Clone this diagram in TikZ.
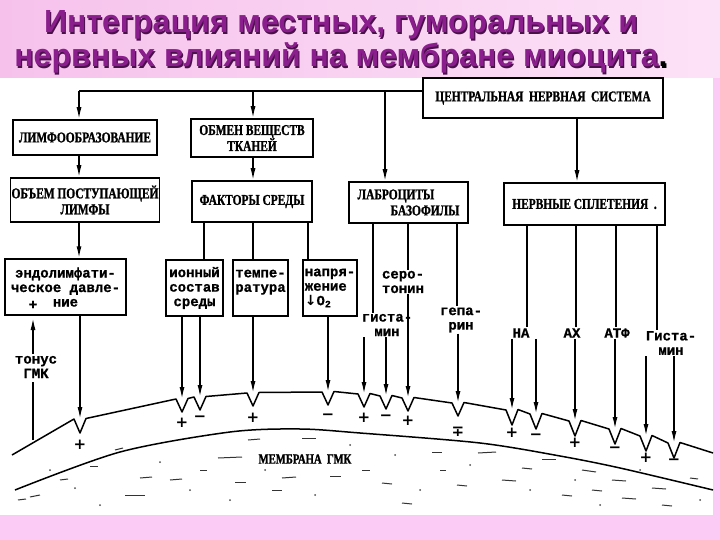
\documentclass[tikz,border=0pt]{standalone}
\usepackage{fontspec}
\setmainfont{Liberation Sans}
\newfontfamily\capfont[FakeStretch=0.76, BoldFeatures={FakeBold=1.2}]{Liberation Serif}
\newfontfamily\lblfont[BoldFeatures={FakeBold=0.8}]{Liberation Mono}
\newfontfamily\symfont{DejaVu Sans}
\usetikzlibrary{arrows.meta}
\definecolor{bgpink}{HTML}{FBCBF6}
\definecolor{titlepink}{HTML}{F6C2EC}
\definecolor{titlelight}{HTML}{FCE2F7}
\definecolor{titlepurple}{HTML}{8A1E8C}
\definecolor{titleshadow}{HTML}{4A104A}
\tikzset{
  titletext/.style={font=\bfseries\fontsize{32}{34}\selectfont, inner sep=0pt, anchor=base},
  boxst/.style={draw, line width=1.5pt, inner sep=1pt, align=center,
    font=\capfont\bfseries\fontsize{15}{16}\selectfont},
  lbox/.style={draw, line width=1.5pt, inner sep=1pt, align=center,
    font=\lblfont\bfseries\fontsize{14}{14.5}\selectfont},
  lbl/.style={inner sep=1pt, align=center, font=\lblfont\bfseries\fontsize{14}{14.5}\selectfont},
  conn/.style={line width=1.5pt},
  arr/.style={line width=1.5pt, -{Latex[length=12pt,width=5pt]}},
  memb/.style={line width=1.5pt, line join=round},
  sgn/.style={inner sep=0pt, font=\symfont\bfseries\fontsize{15}{15}\selectfont},
  speck/.style={line width=1pt, black!80}
}
\begin{document}
\begin{tikzpicture}[x=1pt,y=-1pt]
\useasboundingbox (0,0) rectangle (720,540);
% background
\fill[bgpink] (0,0) rectangle (720,540);
\shade[left color=titlepink, right color=titlelight] (0,0) rectangle (720,78);
\fill[white] (0,78) rectangle (713,515);

% title
\node[titletext, text=titleshadow] at (342.2,34.2) {Интеграция местных, гуморальных и};
\node[titletext, text=titlepurple] (title1) at (341,33) {Интеграция местных, гуморальных и};
\node[titletext, text=titleshadow] at (342.2,68.2) {нервных влияний на мембране миоцита\textcolor{black}{.}};
\node[titletext, text=titlepurple] (title2) at (341,67) {нервных влияний на мембране миоцита\textcolor{black}{.}};

% upper boxes
\node[boxst, minimum width=240, minimum height=40] (cns) at (543,98) {ЦЕНТРАЛЬНАЯ\ \ НЕРВНАЯ\ \ СИСТЕМА};
\node[boxst, minimum width=144, minimum height=35] (limf) at (85,137.5) {ЛИМФООБРАЗОВАНИЕ};
\node[boxst, minimum width=122, minimum height=38] (obmen) at (252,138) {ОБМЕН ВЕЩЕСТВ\\ТКАНЕЙ};
\node[boxst, minimum width=144, minimum height=44] (obyem) at (85,200) {ОБЪЕМ ПОСТУПАЮЩЕЙ\\ЛИМФЫ};
\node[boxst, minimum width=120, minimum height=41] (fakt) at (252,201.5) {ФАКТОРЫ СРЕДЫ};
\node[boxst, minimum width=119, minimum height=41, align=left] (labr) at (408.5,202.5) {ЛАБРОЦИТЫ\\\hspace*{2.2em}БАЗОФИЛЫ};
\node[boxst, minimum width=161, minimum height=42] (nerv) at (584.5,204) {НЕРВНЫЕ СПЛЕТЕНИЯ\ \ .};

% lower boxes
\node[lbox, minimum width=121, minimum height=56] (endo) at (65.5,287) {эндолимфати-\\ческое давле-\\ние};
\node[lbl] (plus) at (33,305) {+};
\node[lbox, minimum width=57, minimum height=56] (ion) at (194.5,288) {ионный\\состав\\среды};
\node[lbox, minimum width=55, minimum height=56] (temp) at (260.5,288) {темпе-\\ратура\\\mbox{}};
\node[lbox, minimum width=54, minimum height=56, align=left] (napr) at (330,288) {напря-\\жение\\{\symfont↓}O\textsubscript{2}};

% free labels
\node[lbl] (sero) at (403,282) {серо-\\тонин};
\node[lbl] (gista) at (387,325) {гиста-\\мин};
\node[lbl] (gepa) at (461,320) {гепа-\\рин};
\node[lbl] (na) at (521,333) {НА};
\node[lbl] (ax) at (572,333) {АХ};
\node[lbl] (atf) at (617,333) {АТФ};
\node[lbl] (gista2) at (671,343) {Гиста-\\мин};
\node[lbl] (tonus) at (36,367) {тонус\\ГМК};

% bus from CNS
\coordinate (busR) at (423,91);
\coordinate (busL) at (79,91);
\coordinate (bus2) at (253,91);
\coordinate (bus3) at (385,91);
\draw[conn] (busR) -- (busL);
\draw[arr] (busL) -- (busL |- limf.north);
\draw[arr] (bus2) -- (bus2 |- obmen.north);
\draw[arr] (bus3) -- (bus3 |- labr.north);
\coordinate (c1) at (577,118);
\draw[arr] (c1) -- (c1 |- nerv.north);

% box to box
\coordinate (l1) at (79,155);
\draw[arr] (l1) -- (l1 |- obyem.north);
\coordinate (o1) at (79,222);
\draw[arr] (o1) -- (o1 |- endo.north);
\coordinate (ob1) at (253,157);
\draw[arr] (ob1) -- (ob1 |- fakt.north);
\coordinate (f1) at (204,222);
\coordinate (f2) at (253,222);
\coordinate (f3) at (308,222);
\draw[conn] (f1) -- (f1 |- ion.north);
\draw[conn] (f2) -- (f2 |- temp.north);
\draw[conn] (f3) -- (f3 |- napr.north);
\coordinate (la1) at (373,223);
\coordinate (la2) at (408,223);
\coordinate (la3) at (457,223);
\draw[conn] (la1) -- (la1 |- gista.north);
\draw[conn] (la2) -- (la2 |- sero.north);
\draw[conn] (la3) -- (la3 |- gepa.north);
\coordinate (n1) at (527,225);
\coordinate (n2) at (576,225);
\coordinate (n3) at (616,225);
\coordinate (n4) at (657,225);
\draw[conn] (n1) -- (n1 |- na.north);
\draw[conn] (n2) -- (n2 |- ax.north);
\draw[conn] (n3) -- (n3 |- atf.north);
\draw[conn] (n4) -- (n4 |- gista2.north);

% tonus
\coordinate (tonend) at (33,440);
\coordinate (tonstart) at (33,354);
\coordinate (tonlow) at (33,382);
\coordinate (tontip) at (33,318);
\draw[conn] (tonend) -- (tonlow);
\draw[arr] (tonstart) -- (tontip);

% membrane (outer line with notches)
\draw[memb] (12,455)
  \foreach \x/\y/\d in {80/419/14, 182/399/13, 200/397/13, 253/393/13,
     328/392/13, 364/394/13, 386/396/13, 408/398/13, 458/403/13, 512/410/15,
     536/414/15, 575/421/15, 615/429/15, 646/436/15, 674/443/15}
  { -- (\x-6,\y) -- (\x,\y+\d) -- (\x+6,\y-0.5) } -- (713,453);
% inner line
\draw[memb] plot[smooth] coordinates {(15,490) (120,452) (230,432) (300,429) (360,433) (480,443) (560,456) (620,468) (713,490)};

% notch targets
\coordinate (t1) at (80,419);
\coordinate (t2) at (182,399);
\coordinate (t3) at (200,397);
\coordinate (t4) at (253,393);
\coordinate (t5) at (328,392);
\coordinate (t6) at (364,394);
\coordinate (t7) at (386,396);
\coordinate (t8) at (408,398);
\coordinate (t9) at (458,403);
\coordinate (t10) at (512,410);
\coordinate (t11) at (536,414);
\coordinate (t12) at (575,421);
\coordinate (t13) at (615,429);
\coordinate (t14) at (646,436);
\coordinate (t15) at (674,443);

% arrows to membrane
\draw[arr] (t1 |- endo.south) -- (t1);
\draw[arr] (t2 |- ion.south) -- (t2);
\draw[arr] (t3 |- ion.south) -- (t3);
\draw[arr] (t4 |- temp.south) -- (t4);
\draw[arr] (t5 |- napr.south) -- (t5);
\draw[arr] (t6 |- gista.south) -- (t6);
\draw[arr] (t7 |- gista.south) -- (t7);
\draw[arr] (t8 |- sero.south) -- (t8);
\draw[arr] (t9 |- gepa.south) -- (t9);
\draw[arr] (t10 |- na.south) -- (t10);
\draw[arr] (t11 |- na.south) -- (t11);
\draw[arr] (t12 |- ax.south) -- (t12);
\draw[arr] (t13 |- atf.south) -- (t13);
\draw[arr] (t14 |- gista2.south) -- (t14);
\draw[arr] (t15 |- gista2.south) -- (t15);

% signs
\node[sgn] at (80,445) {+};
\node[sgn] at (182,423) {+};
\node[sgn] at (200,419) {−};
\node[sgn] at (253,418) {+};
\node[sgn] at (328,417) {−};
\node[sgn] at (364,418) {+};
\node[sgn] at (386,418) {−};
\node[sgn] at (408,421) {+};
\node[sgn] at (458,432) {∓};
\node[sgn] at (512,433) {+};
\node[sgn] at (536,437) {−};
\node[sgn] at (575,443) {+};
\node[sgn] at (615,450) {−};
\node[sgn] at (646,458) {+};
\node[sgn] at (674,462) {−};

% membrane label and texture
\node[font=\capfont\bfseries\fontsize{14}{16}\selectfont, inner sep=1pt] (mlabel) at (305,459) {МЕМБРАНА \ ГМК};
\foreach \a/\b/\c/\d in {218/458/242/457, 115/450/123/448, 90/466/98/466, 140/478/152/477,
   170/480/182/479, 200/470/207/470, 30/497/40/495, 125/495/145/495, 235/482/246/482,
   282/478/296/477, 330/476/341/476, 248/440/260/439, 302/438/316/438, 542/459/556/459,
   478/453/496/452, 432/452/442/452, 582/470/596/472, 612/480/626/481, 652/488/666/489,
   502/480/516/481, 457/485/467/486, 382/483/392/484, 562/495/572/496, 622/498/636/499,
   402/503/412/504, 272/490/282/490, 60/480/68/479, 18/500/26/499, 362/470/370/470,
   522/468/532/469, 592/490/602/491, 662/505/672/506, 440/470/446/470, 690/478/698/479}
  { \draw[speck] (\a,\b) -- (\c,\d); }
\foreach \a/\b in {50/470, 75/488, 160/462, 190/490, 265/470, 315/495, 350/445, 395/455,
   420/490, 470/465, 530/490, 575/480, 640/470, 700/500, 100/505, 230/500, 600/505}
  { \fill[black!70] (\a,\b) circle (1pt); }
\end{tikzpicture}
\end{document}
